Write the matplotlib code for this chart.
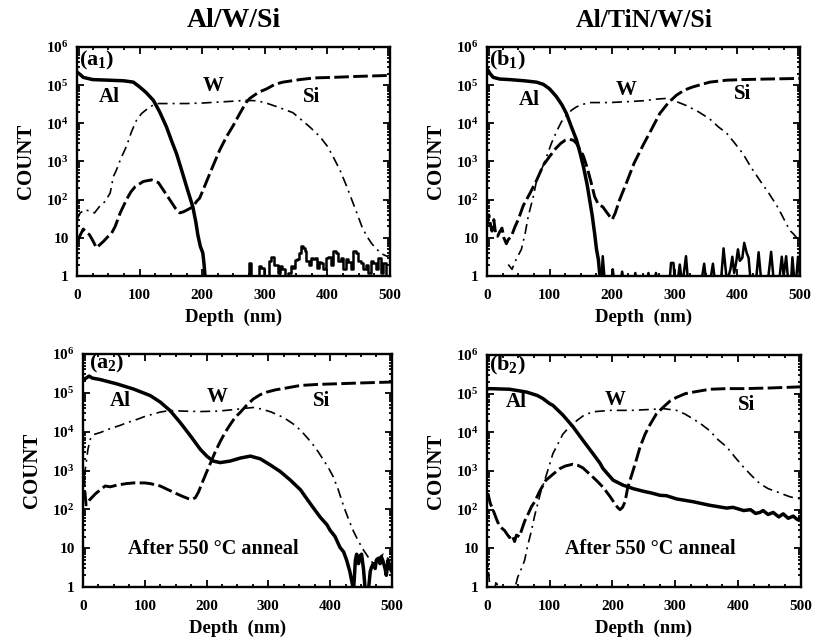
import matplotlib
matplotlib.use("Agg")
import matplotlib.pyplot as plt
from matplotlib.ticker import FixedLocator, LogLocator, MultipleLocator, FuncFormatter, NullFormatter
import numpy as np

plt.rcParams['font.family'] = ['Liberation Serif', 'DejaVu Serif']
plt.rcParams['font.weight'] = 'bold'
plt.rcParams['mathtext.fontset'] = 'custom'
plt.rcParams['mathtext.rm'] = 'Liberation Serif:bold'
plt.rcParams['mathtext.bf'] = 'Liberation Serif:bold'
plt.rcParams['mathtext.it'] = 'Liberation Serif:bold'

# ---- (a1) Al/W/Si as deposited ----
a1_al_x = [0, 5, 10, 25, 50, 75, 90, 100, 110, 122, 132, 143, 151, 159, 167, 175, 185, 190, 193, 197, 201, 203, 205]
a1_al_y = [2.2e5, 1.9e5, 1.6e5, 1.4e5, 1.35e5, 1.3e5, 1.2e5, 9e4, 6.5e4, 4e4, 2e4, 8e3, 3.5e3, 1.6e3, 600, 220, 65, 25, 12, 6, 4, 2, 0.8]
a1_noise_x = [268, 272, 276, 280, 290, 293, 296, 300, 306, 309, 312, 316, 319, 322, 326, 329, 334, 340, 344, 347,
              350, 353, 356, 359, 362, 365, 368, 372, 375, 378, 382, 385, 388, 391, 395, 399, 403, 407, 411, 415,
              419, 423, 427, 431, 435, 439, 443, 447, 451, 455, 459, 463, 467, 471, 475, 479, 483, 487, 491, 495]
a1_noise_y = [0.8, 1, 2.2, 0.9, 0.9, 1.8, 1.6, 0.9, 1, 2.5, 3.2, 2, 2, 1.2, 1.8, 1.5, 1, 1.2, 1.8, 1.6,
              2.6, 2.8, 4, 6, 5.5, 4.5, 2.5, 2, 3, 2.8, 3, 1.6, 2.4, 2.2, 1.5, 3, 3.2, 2, 4.5, 4,
              2.5, 3, 1.5, 2.8, 2.4, 1.5, 4.5, 4, 2.5, 2.2, 1.5, 2, 1.2, 2.5, 2.2, 1.5, 3, 1.2, 2.2, 1]
a1_w_x = [0, 5, 13, 20, 28, 37, 45, 53, 58, 63, 70, 79, 87, 95, 103, 111, 120, 130, 150, 175, 200, 225, 250, 270,
          287, 300, 320, 345, 372, 388, 400, 409, 420, 431, 440, 447, 455, 463, 471, 479, 487, 495, 500]
a1_w_y = [30, 45, 55, 50, 45, 70, 90, 150, 400, 600, 1200, 2500, 6000, 1.2e4, 1.8e4, 2.3e4, 2.9e4, 3.3e4, 3.3e4,
          3.3e4, 3.4e4, 3.6e4, 3.8e4, 4e4, 3.9e4, 3.5e4, 2.7e4, 1.9e4, 8e3, 4.5e3, 2.5e3, 1.35e3, 600, 220, 90,
          45, 20, 11, 7, 5, 3.8, 3.3, 3.5]
a1_si_x = [0, 3, 10, 15, 20, 26, 31, 36, 42, 50, 55, 61, 69, 79, 86, 93, 106, 119, 130, 141, 150, 157, 164, 170,
           177, 185, 191, 196, 205, 217, 228, 239, 250, 260, 270, 276, 290, 303, 316, 329, 356, 380, 409, 450, 500]
a1_si_y = [9, 10, 17, 14, 12, 8, 5.5, 6.5, 8, 11, 13, 20, 45, 100, 160, 220, 300, 330, 280, 150, 90, 60, 45, 48,
           55, 65, 90, 110, 250, 750, 2000, 4500, 9e3, 1.8e4, 3.5e4, 4.5e4, 6.5e4, 8e4, 1.05e5, 1.2e5, 1.4e5,
           1.55e5, 1.6e5, 1.7e5, 1.8e5]

# ---- (b1) Al/TiN/W/Si as deposited ----
b1_al_x = [0, 5, 10, 20, 36, 60, 79, 90, 100, 111, 120, 127, 135, 143, 149, 154, 160, 164, 168, 172, 175, 178, 180, 182]
b1_al_y = [2.7e5, 2e5, 1.6e5, 1.45e5, 1.4e5, 1.3e5, 1.2e5, 1.05e5, 8e4, 5e4, 3e4, 1.8e4, 8e3, 3.7e3, 1.6e3, 750,
           250, 100, 40, 13, 5, 2.7, 1.2, 0.8]
b1_noise_x = [183, 185, 188, 199, 201, 203, 214, 216, 218, 235, 237, 239, 256, 258, 260, 268, 270, 272, 292, 294,
              298, 300, 305, 308, 311, 314, 318, 321, 343, 347, 350, 357, 361, 364, 374, 378, 383, 386, 389, 392,
              395, 398, 401, 404, 408, 411, 415, 418, 421, 430, 434, 438, 449, 454, 458, 467, 471, 474, 478, 481,
              486, 488, 491, 494, 497, 500]
b1_noise_y = [0.8, 3.3, 0.8, 0.8, 1.5, 0.8, 0.8, 1.3, 0.8, 0.8, 1.2, 0.8, 0.8, 1.2, 0.8, 0.8, 1.2, 0.8, 0.8, 2.2,
              2.2, 0.8, 0.8, 2.0, 0.8, 1, 3.3, 0.8, 0.8, 2.1, 0.8, 0.8, 2.1, 0.8, 0.8, 5.3, 0.8, 1, 1.5, 3.2,
              1.2, 2.2, 5, 2.5, 3, 7.4, 4, 3, 0.8, 0.8, 4.2, 0.8, 0.8, 4.3, 0.8, 0.8, 3.2, 1, 3.3, 0.8,
              0.8, 3.1, 0.8, 0.8, 3.2, 1]
b1_w_x = [34, 40, 47, 55, 61, 66, 74, 79, 85, 95, 103, 111, 119, 127, 135, 143, 155, 164, 196, 225, 250, 270, 287,
          303, 319, 338, 356, 370, 383, 396, 409, 422, 436, 450, 463, 471, 479, 485, 489, 495, 500]
b1_w_y = [2, 1.5, 2.8, 5, 13, 37, 120, 300, 500, 1.3e3, 3e3, 6e3, 1.1e4, 1.6e4, 2.2e4, 2.7e4, 3.2e4, 3.5e4, 3.5e4,
          3.7e4, 3.9e4, 4.3e4, 4.5e4, 3.7e4, 2.9e4, 2e4, 1.3e4, 8e3, 5.5e3, 3e3, 1.6e3, 700, 320, 150, 70, 40,
          22, 15, 13, 10, 8]
b1_si_x = [0, 3, 5, 8, 11, 14, 17, 20, 24, 27, 31, 34, 39, 45, 50, 58, 69, 80, 90, 100, 110, 118, 125, 132, 138,
           143, 149, 154, 160, 166, 172, 178, 185, 192, 200, 205, 212, 223, 235, 250, 263, 276, 290, 303, 316,
           329, 356, 383, 409, 450, 500]
b1_si_y = [20, 40, 25, 15, 30, 12, 11, 14, 18, 10, 7, 9, 11, 20, 30, 70, 150, 340, 800, 1.35e3, 2.2e3, 3e3, 3.6e3,
           3.8e3, 3.6e3, 3e3, 2e3, 1.4e3, 700, 300, 120, 75, 65, 45, 30, 45, 100, 280, 900, 2.8e3, 7e3, 1.8e4,
           3.5e4, 5.5e4, 7.5e4, 9e4, 1.2e5, 1.35e5, 1.4e5, 1.45e5, 1.5e5]

# ---- (a2) Al/W/Si after anneal ----
a2_al_x = [0, 5, 10, 15, 28, 55, 82, 109, 125, 141, 157, 174, 190, 201, 211, 222, 238, 255, 271, 287, 303, 319,
           335, 352, 368, 384, 395, 400, 408, 416, 422, 427, 432, 436, 438, 441, 443, 446, 449, 451, 454, 457,
           462, 465, 467, 470, 473, 475, 478, 481, 483, 486, 489, 491, 494, 497, 500]
a2_al_y = [2.1e5, 2.4e5, 2.7e5, 2.4e5, 2.2e5, 1.7e5, 1.25e5, 8.5e4, 5.8e4, 3.5e4, 1.75e4, 7.8e3, 3.5e3, 2.3e3,
           1.75e3, 1.6e3, 1.75e3, 2.1e3, 2.35e3, 2e3, 1.4e3, 950, 580, 320, 140, 63, 40, 29, 20, 10.5, 8,
           4.8, 2.5, 1.2, 0.8, 5, 7, 4, 6.5, 7, 3, 0.8, 0.8, 2.5, 3.2, 4, 3, 5, 5.5, 4, 6, 4.5, 3, 2, 5, 3, 2.5]
a2_w_x = [2, 5, 8, 12, 18, 28, 44, 60, 71, 85, 98, 112, 125, 140, 160, 190, 220, 244, 262, 276, 290, 305, 325,
          340, 352, 363, 373, 381, 389, 397, 405, 413, 422, 430, 438, 446, 454, 462, 470, 476, 481, 486, 491, 496, 500]
a2_w_y = [700, 1.5e3, 3.5e3, 6.5e3, 8.5e3, 9.5e3, 1.2e4, 1.45e4, 1.7e4, 2e4, 2.4e4, 2.8e4, 3.2e4, 3.5e4, 3.4e4,
          3.3e4, 3.4e4, 3.7e4, 4e4, 4.2e4, 3.8e4, 3.2e4, 2.3e4, 1.6e4, 1.1e4, 7e3, 4.5e3, 3e3, 1.9e3, 1.2e3,
          700, 330, 120, 55, 27, 15, 9, 5.8, 4, 4.5, 6, 7, 6, 5, 4.5]
a2_si_x = [0, 3, 5, 10, 20, 28, 36, 44, 55, 70, 82, 100, 109, 125, 136, 150, 160, 170, 176, 182, 187, 195, 200,
           206, 214, 222, 230, 238, 246, 255, 265, 276, 287, 298, 312, 325, 352, 380, 405, 450, 500]
a2_si_y = [900, 300, 130, 170, 250, 320, 400, 380, 420, 460, 480, 480, 460, 400, 330, 260, 220, 190, 180, 200,
           280, 580, 900, 1.5e3, 3e3, 5.5e3, 9.5e3, 1.5e4, 2.3e4, 3.2e4, 4.8e4, 7e4, 9e4, 1.05e5, 1.2e5, 1.3e5,
           1.55e5, 1.65e5, 1.7e5, 1.8e5, 1.9e5]

# ---- (b2) Al/TiN/W/Si after anneal ----
b2_al_x = [0, 4, 36, 63, 80, 89, 100, 105, 121, 137, 153, 169, 180, 185, 201, 217, 223, 233, 249, 262, 276, 286,
           302, 329, 355, 382, 392, 409, 420, 428, 435, 440, 448, 456, 465, 472, 480, 488, 495, 500]
b2_al_y = [1.3e5, 1.35e5, 1.3e5, 1.1e5, 9e4, 7.5e4, 5.5e4, 5e4, 2.8e4, 1.4e4, 6.2e3, 2.8e3, 1.6e3, 1.15e3, 580,
           430, 400, 350, 300, 270, 235, 230, 190, 160, 130, 110, 115, 95, 100, 80, 85, 95, 75, 85, 65, 78, 60,
           68, 55, 62]
b2_w_x = [0, 3, 5, 12, 15, 18, 40, 45, 49, 55, 60, 65, 71, 76, 81, 86, 92, 100, 105, 113, 121, 127, 135, 143, 155,
          169, 196, 230, 260, 281, 302, 315, 329, 342, 355, 368, 382, 395, 409, 422, 435, 448, 462, 475, 483,
          492, 500]
b2_w_y = [9, 2, 0.8, 0.8, 1.5, 0.8, 0.8, 1, 1.8, 3, 4.9, 12, 29, 70, 145, 300, 575, 1.5e3, 2.8e3, 5e3, 9e3,
          1.15e4, 1.5e4, 2e4, 2.8e4, 3.4e4, 3.7e4, 3.7e4, 3.9e4, 4.1e4, 3.7e4, 3e4, 2.2e4, 1.6e4, 1.1e4, 6.5e3,
          4.2e3, 2.3e3, 1.25e3, 750, 470, 350, 290, 240, 215, 200, 190]
b2_si_x = [0, 2, 5, 10, 17, 22, 28, 33, 36, 40, 44, 47, 52, 55, 60, 66, 71, 76, 84, 94, 100, 108, 116, 125, 137,
           145, 153, 163, 174, 185, 196, 203, 208, 212, 216, 220, 224, 228, 236, 244, 252, 260, 270, 281, 292,
           302, 316, 329, 355, 382, 409, 450, 500]
b2_si_y = [230, 250, 150, 95, 48, 35, 29, 22, 19, 22, 15, 22, 20, 29, 50, 80, 120, 160, 300, 580, 700, 900, 1.15e3,
           1.35e3, 1.5e3, 1.4e3, 1.2e3, 850, 580, 380, 220, 150, 115, 100, 115, 160, 350, 580, 1.5e3, 4.2e3,
           9e3, 1.6e4, 3e4, 4.5e4, 6.5e4, 8e4, 1e5, 1.1e5, 1.3e5, 1.35e5, 1.35e5, 1.4e5, 1.5e5]

y_labels = {1: '1', 10: '10', 1e2: r'$10^{2}$', 1e3: r'$10^{3}$', 1e4: r'$10^{4}$',
            1e5: r'$10^{5}$', 1e6: r'$10^{6}$'}


def style_axes(ax):
    ax.set_yscale('log')
    ax.set_xlim(0, 500)
    ax.set_ylim(1, 1e6)
    ax.xaxis.set_major_locator(MultipleLocator(100))
    ax.xaxis.set_minor_locator(MultipleLocator(25))
    ax.yaxis.set_major_locator(FixedLocator(list(y_labels.keys())))
    ax.yaxis.set_minor_locator(LogLocator(base=10, subs=np.arange(2, 10)))
    ax.yaxis.set_minor_formatter(NullFormatter())
    ax.yaxis.set_major_formatter(FuncFormatter(lambda v, p: y_labels.get(v, '')))
    ax.tick_params(which='both', direction='in', top=True, right=True, width=1.3)
    ax.tick_params(which='major', length=5, labelsize=11)
    ax.tick_params(axis='x', which='major', pad=9)
    ax.tick_params(axis='y', which='major', pad=6)
    ax.tick_params(which='minor', length=2.5)
    for lab in ax.get_xticklabels() + ax.get_yticklabels():
        lab.set_fontweight('bold')
    for s in ax.spines.values():
        s.set_linewidth(1.7)
    ax.set_xlabel('Depth  (nm)', fontsize=13.5, fontweight='bold', labelpad=5)
    ax.set_ylabel('COUNT', fontsize=15, fontweight='bold', labelpad=7)


def draw_profiles(ax, al_x, al_y, w_x, w_y, si_x, si_y):
    ax.plot(al_x, al_y, color='black', lw=2.5, solid_joinstyle='round')
    ax.plot(w_x, w_y, color='black', lw=1.2, linestyle=(0, (6, 3, 1.2, 3)))
    ax.plot(si_x, si_y, color='black', lw=2.1, linestyle=(0, (5, 1.5)))


fig = plt.figure(figsize=(8.15, 6.41), dpi=100)
ax_a1 = fig.add_axes([0.0945, 0.5694, 0.384, 0.3573])
ax_b1 = fig.add_axes([0.5975, 0.5694, 0.384, 0.3573])
ax_a2 = fig.add_axes([0.1018, 0.0842, 0.379, 0.3635])
ax_b2 = fig.add_axes([0.5975, 0.0842, 0.385, 0.3620])

draw_profiles(ax_a1, a1_al_x, a1_al_y, a1_w_x, a1_w_y, a1_si_x, a1_si_y)
ax_a1.plot(a1_noise_x, a1_noise_y, color='black', lw=1.8, drawstyle='steps-mid')
draw_profiles(ax_b1, b1_al_x, b1_al_y, b1_w_x, b1_w_y, b1_si_x, b1_si_y)
ax_b1.plot(b1_noise_x, b1_noise_y, color='black', lw=1.8)
draw_profiles(ax_a2, a2_al_x, a2_al_y, a2_w_x, a2_w_y, a2_si_x, a2_si_y)
draw_profiles(ax_b2, b2_al_x, b2_al_y, b2_w_x, b2_w_y, b2_si_x, b2_si_y)

for ax in (ax_a1, ax_b1, ax_a2, ax_b2):
    style_axes(ax)

lab = dict(fontsize=15, fontweight='bold', ha='center', va='center')
tag = dict(fontsize=16, fontweight='bold', ha='left', va='center')
ax_a1.text(3, 4.3e5, r'(a$_{1}$)', **tag)
ax_a1.text(52, 5e4, 'Al', **lab)
ax_a1.text(217, 9.5e4, 'W', **lab)
ax_a1.text(375, 5e4, 'Si', **lab)

ax_b1.text(3, 4.3e5, r'(b$_{1}$)', **tag)
ax_b1.text(68, 4e4, 'Al', **lab)
ax_b1.text(223, 7.5e4, 'W', **lab)
ax_b1.text(409, 6e4, 'Si', **lab)

ax_a2.text(10, 5.8e5, r'(a$_{2}$)', **tag)
ax_a2.text(60, 6.3e4, 'Al', **lab)
ax_a2.text(217, 8e4, 'W', **lab)
ax_a2.text(387, 6.3e4, 'Si', **lab)
ax_a2.text(211, 9.5, 'After 550 \u00b0C anneal', fontsize=14.5, fontweight='bold', ha='center', va='center')

ax_b2.text(3, 5.3e5, r'(b$_{2}$)', **tag)
ax_b2.text(47, 6e4, 'Al', **lab)
ax_b2.text(204, 6.8e4, 'W', **lab)
ax_b2.text(414, 5e4, 'Si', **lab)
ax_b2.text(260, 9.8, 'After 550 \u00b0C anneal', fontsize=14.5, fontweight='bold', ha='center', va='center')

fig.text(0.287, 0.968, 'Al/W/Si', fontsize=20, fontweight='bold', ha='center', va='center')
fig.text(0.791, 0.968, 'Al/TiN/W/Si', fontsize=18.5, fontweight='bold', ha='center', va='center')

fig.savefig('out.png', dpi=100)
